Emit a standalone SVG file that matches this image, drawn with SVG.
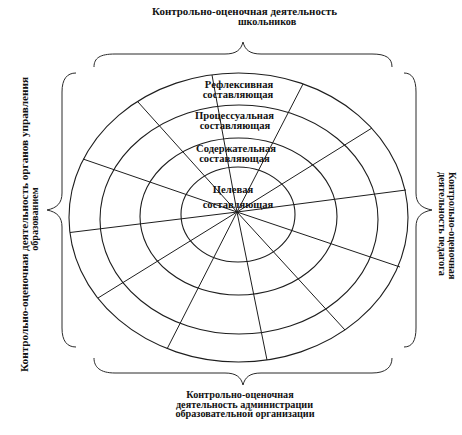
<svg xmlns="http://www.w3.org/2000/svg" width="462" height="435" viewBox="0 0 462 435">
<style>
.ln{fill:none;stroke:#1e1e1e;stroke-width:1.1}
.rd{stroke:#1e1e1e;stroke-width:1}
.br{fill:none;stroke:#2a2a2a;stroke-width:1}
.t{font-family:"Liberation Serif","Times New Roman",serif;font-weight:bold;fill:#111}
.r{font-size:10.6px;text-anchor:middle}
.s{font-size:10.2px}
</style>
<rect width="462" height="435" fill="#fff"/>
<g id="rings">
<ellipse class="ln" cx="238.5" cy="217.5" rx="169.5" ry="144.5"/>
<ellipse class="ln" cx="239" cy="219.5" rx="139" ry="114.5"/>
<ellipse class="ln" cx="238.5" cy="216.5" rx="98.5" ry="78.5"/>
<ellipse class="ln" cx="238" cy="214.5" rx="57" ry="47.5"/>
</g>
<g id="connectors">
<line class="rd" x1="237" y1="212" x2="212" y2="75"/>
<line class="rd" x1="237" y1="212" x2="303" y2="84"/>
<line class="rd" x1="237" y1="212" x2="372" y2="128"/>
<line class="rd" x1="237" y1="212" x2="406" y2="190"/>
<line class="rd" x1="237" y1="212" x2="400" y2="267"/>
<line class="rd" x1="237" y1="212" x2="345" y2="330"/>
<line class="rd" x1="237" y1="212" x2="267" y2="360"/>
<line class="rd" x1="237" y1="212" x2="167" y2="349"/>
<line class="rd" x1="237" y1="212" x2="98" y2="298"/>
<line class="rd" x1="237" y1="212" x2="70" y2="232.5"/>
<line class="rd" x1="237" y1="212" x2="83" y2="159"/>
<line class="rd" x1="237" y1="212" x2="138" y2="102"/>
</g>
<g id="braces">
<path class="br" d="M94,67 C94,58 100,54 115,54 L225,54 C236,54 241,50 243,42 C245,50 250,54 261,54 L372,54 C386,54 392,58 392,67"/>
<path class="br" d="M94,358 C94,367 100,373 115,373 L225,373 C236,373 241,377 243,385 C245,377 250,373 261,373 L372,373 C386,373 392,367 392,358"/>
<path class="br" d="M76,73 C67,73 62,79 62,92 L62,193 C62,203 57,208 47,210 C57,212 62,217 62,227 L62,328 C62,341 67,347 76,347"/>
<path class="br" d="M404,73 C412,73 416,79 416,92 L416,193 C416,203 421,208 432,210 C421,212 416,217 416,227 L416,328 C416,341 412,347 404,347"/>
</g>
<g id="ring-reflexive">
<text class="t r" x="239" y="88">Рефлексивная</text>
<text class="t r" x="238" y="98">составляющая</text>
</g>
<g id="ring-process">
<text class="t r" x="234.5" y="119">Процессуальная</text>
<text class="t r" x="235" y="129">составляющая</text>
</g>
<g id="ring-content">
<text class="t r" x="236" y="151.5">Содержательная</text>
<text class="t r" x="234.5" y="161.5">составляющая</text>
</g>
<g id="ring-target">
<text class="t r" x="233" y="193">Целевая</text>
<text class="t r" x="238" y="208">составляющая</text>
</g>
<g id="label-top">
<text class="t s" x="152" y="14.5" textLength="185" lengthAdjust="spacingAndGlyphs">Контрольно-оценочная деятельность</text>
<text class="t s" x="238" y="24.5">школьников</text>
</g>
<g id="label-bottom">
<text class="t s" x="240" y="398" text-anchor="middle">Контрольно-оценочная</text>
<text class="t s" x="244.5" y="407.5" text-anchor="middle">деятельность администрации</text>
<text class="t s" x="245" y="417" text-anchor="middle">образовательной организации</text>
</g>
<g id="label-left">
<text class="t s" transform="translate(28,224.5) rotate(-90)" text-anchor="middle" textLength="295" lengthAdjust="spacingAndGlyphs">Контрольно-оценочная деятельность органов управления</text>
<text class="t s" transform="translate(37.5,219) rotate(-90)" text-anchor="middle">образованием</text>
</g>
<g id="label-right">
<text class="t s" transform="translate(449,172) rotate(90)">Контрольно-оценочная</text>
<text class="t s" transform="translate(439,172) rotate(90)">деятельность педагога</text>
</g>
</svg>
